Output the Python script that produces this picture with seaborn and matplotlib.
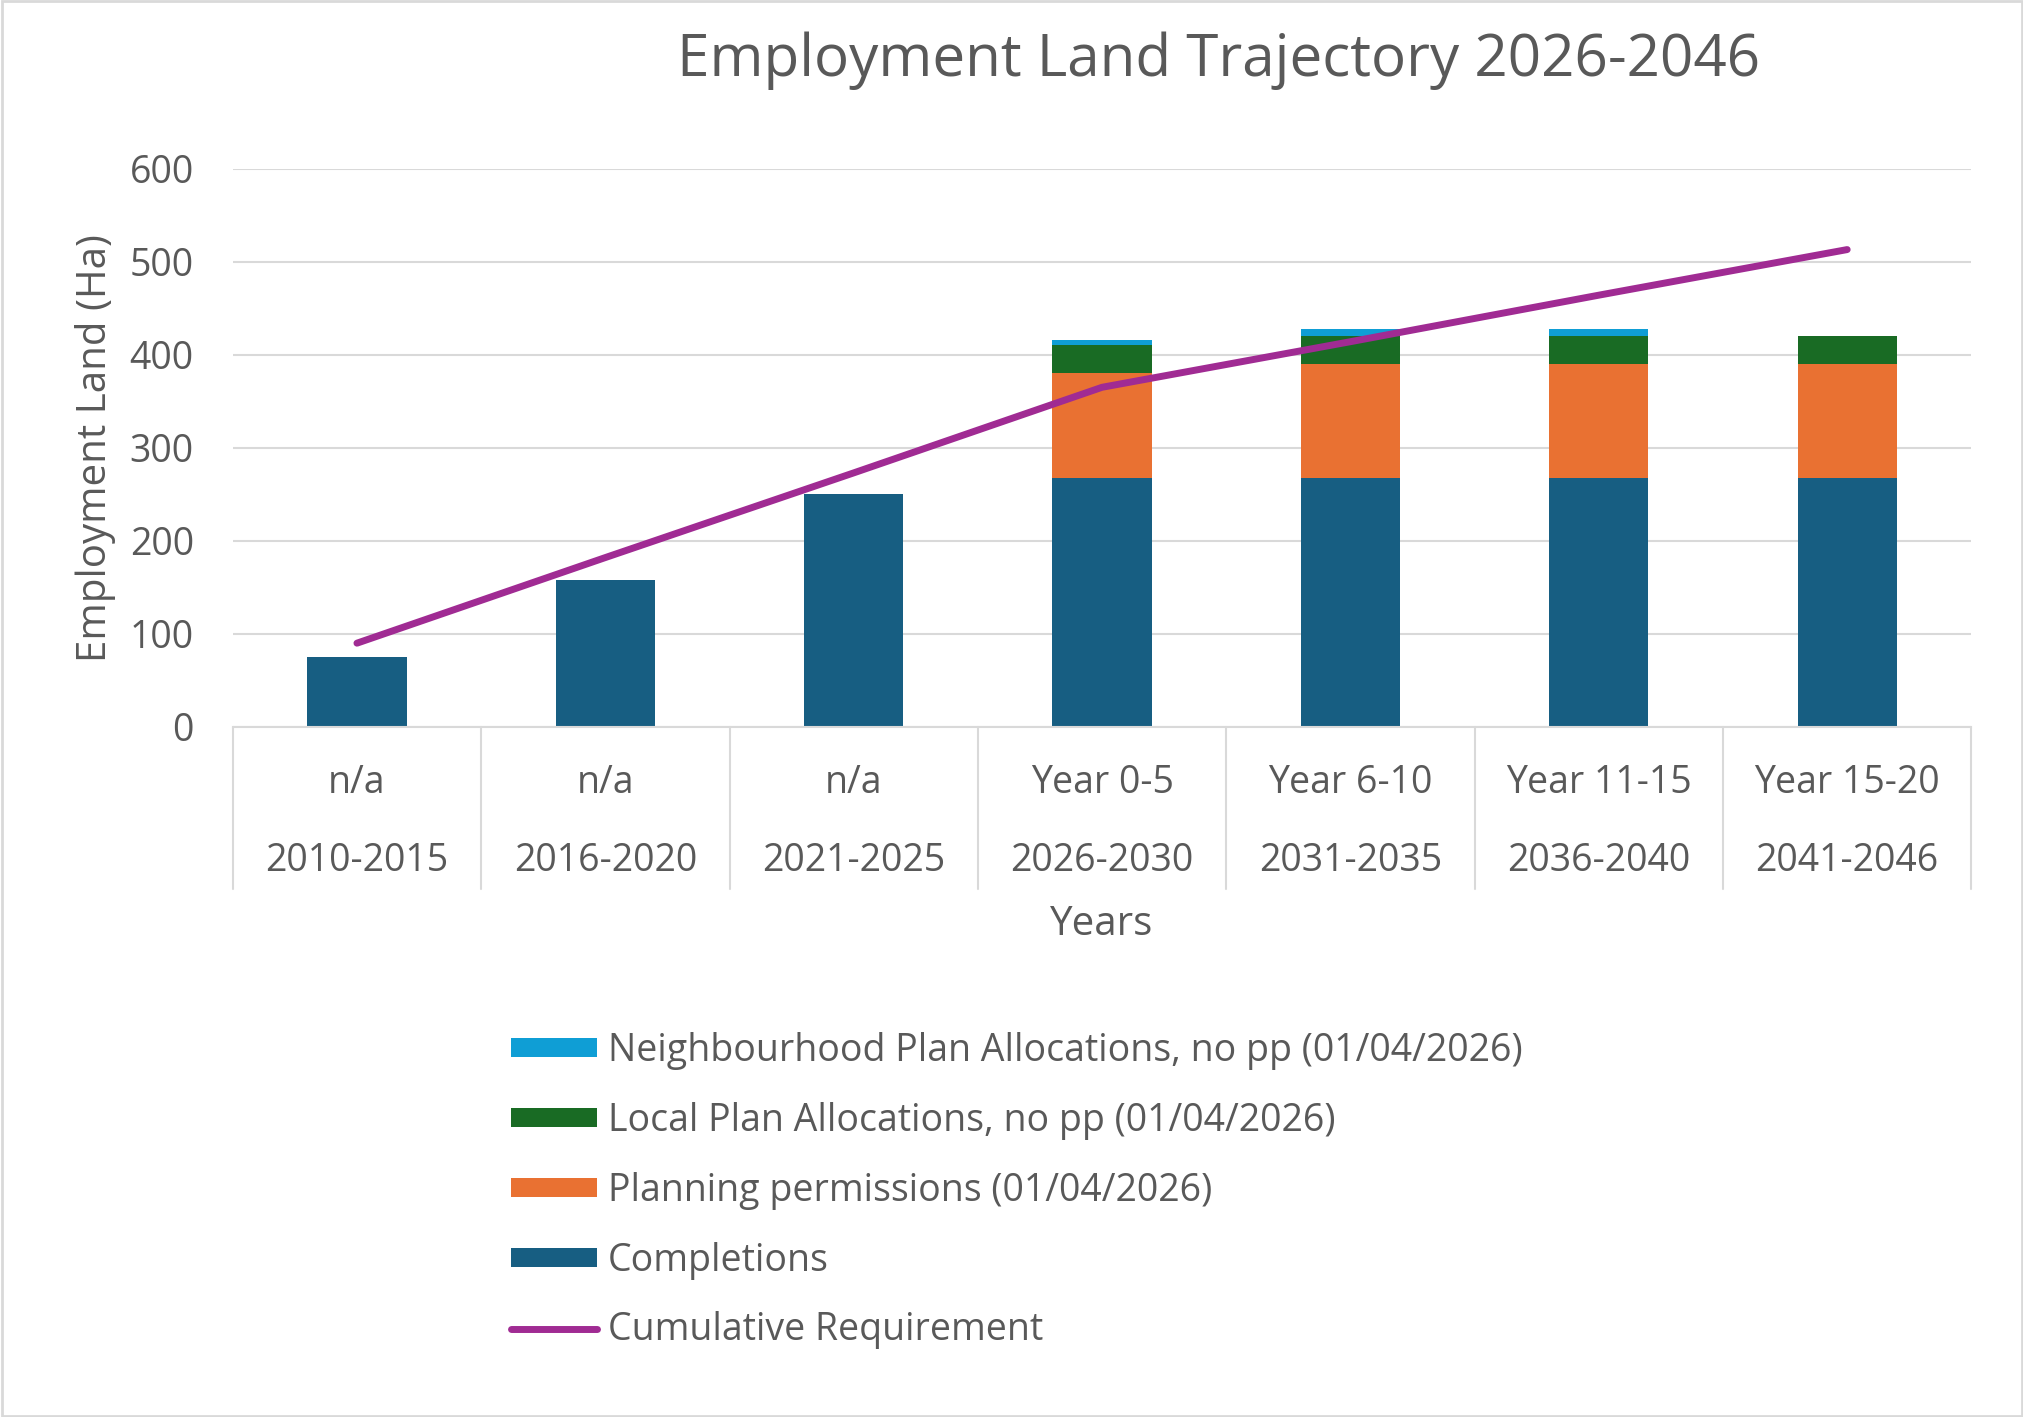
import matplotlib
matplotlib.use("Agg")
import matplotlib.pyplot as plt
import seaborn as sns
import numpy as np
import pandas as pd

periods = ["2010-2015", "2016-2020", "2021-2025", "2026-2030", "2031-2035", "2036-2040", "2041-2046"]
stages = ["n/a", "n/a", "n/a", "Year 0-5", "Year 6-10", "Year 11-15", "Year 15-20"]
completions = [75, 158, 250, 268, 268, 268, 268]
permissions = [0, 0, 0, 112, 122, 122, 122]
local_plan = [0, 0, 0, 30, 30, 30, 30]
neighbourhood = [0, 0, 0, 6, 8, 8, 0]
requirement = [90, 182, 273, 365, 414, 464, 513]

sns.set_theme(style="white")
plt.rcParams['font.family'] = ['Open Sans', 'DejaVu Sans']
txt = "#595959"

fig = plt.figure(figsize=(20.24, 14.17), dpi=100)
ax = fig.add_axes([0.115, 0.487, 0.859, 0.394])

series = [("Completions", completions, "#175E82"),
          ("Planning permissions (01/04/2026)", permissions, "#E97132"),
          ("Local Plan Allocations, no pp (01/04/2026)", local_plan, "#196B24"),
          ("Neighbourhood Plan Allocations, no pp (01/04/2026)", neighbourhood, "#0F9ED5")]
bottom = np.zeros(len(periods))
for name, vals, col in series:
    sns.barplot(x=periods, y=vals, bottom=bottom, color=col, width=0.4, ax=ax,
                label=name, saturation=1, linewidth=0)
    bottom = bottom + np.array(vals)
sns.lineplot(x=np.arange(len(periods)), y=requirement, color="#A02B93", lw=5, ax=ax,
             label="Cumulative Requirement")

ax.set_xlim(-0.5, 6.5)
ax.set_ylim(0, 600)
ax.set_yticks(range(0, 601, 100))
ax.tick_params(axis='y', labelsize=27, colors=txt, length=0, pad=28)
ax.yaxis.grid(True, color="#D9D9D9", lw=1.5)
ax.set_axisbelow(True)
for s in ["top", "right", "left"]:
    ax.spines[s].set_visible(False)
ax.spines["bottom"].set_color("#D9D9D9")
ax.spines["bottom"].set_linewidth(1.5)
ax.set_xticks([])
ax.set_xlabel("")
ax.set_ylabel("Employment Land (Ha)", fontsize=29, color=txt, labelpad=10)

tr = ax.get_xaxis_transform()
for i in range(len(periods)):
    ax.text(i, -0.10, stages[i], transform=tr, ha="center", va="center", fontsize=27, color=txt, clip_on=False)
    ax.text(i, -0.24, periods[i], transform=tr, ha="center", va="center", fontsize=27, color=txt, clip_on=False)
for b in np.arange(-0.5, 7.0, 1.0):
    ax.plot([b, b], [0, -0.29], transform=tr, color="#D9D9D9", lw=1.5, clip_on=False)
ax.text(3, -0.355, "Years", transform=tr, ha="center", va="center", fontsize=29, color=txt)

fig.text(0.602, 0.957, "Employment Land Trajectory 2026-2046", ha="center", va="center", fontsize=42, color=txt)

h, l = ax.get_legend_handles_labels()
names = ["Neighbourhood Plan Allocations, no pp (01/04/2026)", "Local Plan Allocations, no pp (01/04/2026)",
         "Planning permissions (01/04/2026)", "Completions", "Cumulative Requirement"]
hh = [h[l.index(n)] for n in names]
ax.legend(hh, names, loc="upper left", bbox_to_anchor=(0.243, 0.285), bbox_transform=fig.transFigure,
          frameon=False, fontsize=27, labelcolor=txt, handlelength=2.3, handleheight=0.4,
          labelspacing=0.85, handletextpad=0.3, borderpad=0)

fig.patches.append(plt.Rectangle((0.001, 0.001), 0.998, 0.998, transform=fig.transFigure,
                                 fill=False, edgecolor="#D9D9D9", lw=2))
fig.savefig("out.png", dpi=100, facecolor="white")
